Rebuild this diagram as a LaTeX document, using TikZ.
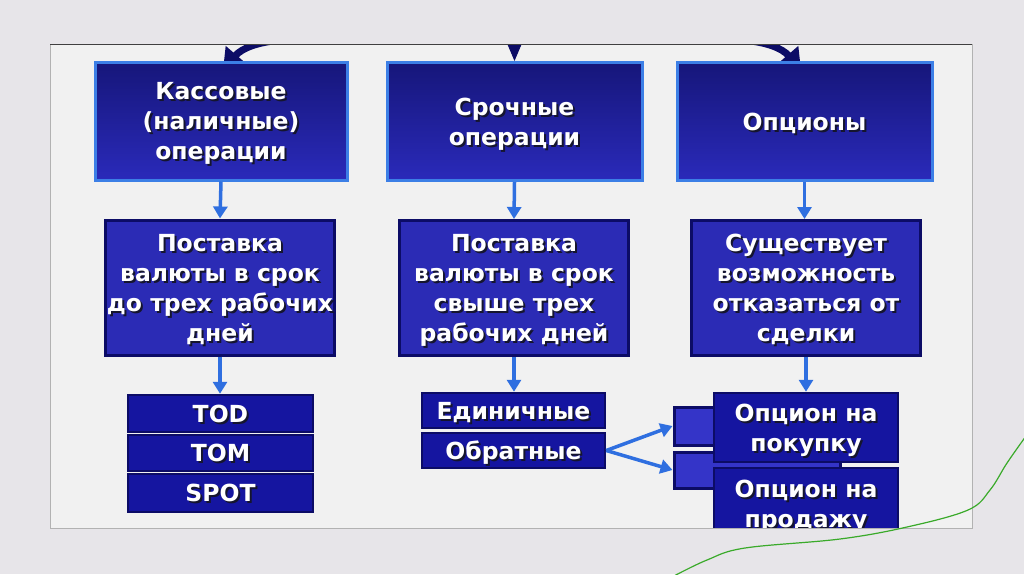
\documentclass[tikz,border=0pt]{standalone}
\usepackage{fontspec}
\setmainfont{DejaVu Sans}
\usetikzlibrary{arrows.meta}
\definecolor{slidebg}{HTML}{E7E5E9}
\definecolor{panelbg}{HTML}{F1F1F1}
\definecolor{navy}{HTML}{0C0C66}
\definecolor{topA}{HTML}{16167A}
\definecolor{topB}{HTML}{2A2ABA}
\definecolor{lightedge}{HTML}{3C7FE6}
\definecolor{midA}{HTML}{2B2BB5}
\definecolor{midB}{HTML}{5858E6}
\definecolor{lowA}{HTML}{1515A0}
\definecolor{lowB}{HTML}{2D2DD8}
\definecolor{smA}{HTML}{3434C8}
\definecolor{smB}{HTML}{5A5AF0}
\definecolor{arrowblue}{HTML}{2F6FE0}
\definecolor{shadowc}{HTML}{15152E}
\definecolor{greenline}{HTML}{3AAA2A}
\newcommand\shtxt[1]{\raisebox{-3.5pt}[\height][\depth]{\makebox[0pt][l]{\raisebox{-2pt}{\hspace*{2pt}\textcolor{shadowc}{\begin{tabular}{@{}c@{}}#1\end{tabular}}}}\begin{tabular}{@{}c@{}}#1\end{tabular}}}
\tikzset{
  boxtext/.style={text=white, font=\bfseries\fontsize{23.5}{30}\selectfont, inner sep=0pt},
  topbox/.style={boxtext, draw=lightedge, line width=3pt, top color=topA, bottom color=topB, minimum width=252pt, minimum height=118pt},
  midbox/.style={boxtext, draw=navy, line width=3pt, top color=midA, middle color=midB, bottom color=midA, minimum width=229pt, minimum height=135pt},
  lowbox/.style={boxtext, draw=navy, line width=2.5pt, top color=lowA, middle color=lowB, bottom color=lowA},
  smallbox/.style={draw=navy, line width=3pt, top color=smA, middle color=smB, bottom color=smA, minimum width=166pt, inner sep=0pt},
  downarrow/.style={draw=arrowblue, line width=3.5pt, -{Triangle[width=14pt,length=12pt]}},
  navyarrow/.style={draw=navy, line width=7pt, -{Triangle[width=26pt,length=20pt]}},
}
\begin{document}
\begin{tikzpicture}[x=1pt,y=-1pt]
\useasboundingbox (0,0) rectangle (1024,574);
\fill[slidebg] (0,0) rectangle (1024,574);
\fill[panelbg] (50,44) rectangle (972,528);
\begin{scope}
\clip (50,44) rectangle (972,528);
% incoming arrows from above (named endpoints)
\coordinate (in1) at (282,40);
\coordinate (in2) at (514.5,36);
\coordinate (in3) at (742,40);
\coordinate (t1) at (223,70);
\coordinate (t3) at (801,70);
\draw[navyarrow] (in1) .. controls (258,42) and (242,48) .. (t1);
\draw[navyarrow] (in3) .. controls (766,42) and (782,48) .. (t3);
% top row
\node[topbox] (b1) at (221,121) {\shtxt{Кассовые\\(наличные)\\операции}};
\node[topbox, minimum width=255pt] (b2) at (514.5,121.5) {\shtxt{Срочные\\операции}};
\node[topbox, minimum width=255pt] (b3) at (804.5,121.5) {\shtxt{Опционы}};
\draw[draw=navy, line width=1pt, -{Triangle[width=15pt,length=18pt]}] (in2) -- (b2.north);
% second row
\node[midbox] (c1) at (220,287.5) {\shtxt{Поставка\\валюты в срок\\до трех рабочих\\дней}};
\node[midbox] (c2) at (514,288) {\shtxt{Поставка\\валюты в срок\\свыше трех\\рабочих дней}};
\node[midbox] (c3) at (806,288) {\shtxt{Существует\\возможность\\отказаться от\\сделки}};
% third row left
\node[lowbox, minimum width=185pt, minimum height=37pt] (tod) at (220.5,413.5) {\shtxt{TOD}};
\node[lowbox, minimum width=185pt, minimum height=36pt] (tom) at (220.5,453) {\shtxt{TOM}};
\node[lowbox, minimum width=185pt, minimum height=38pt] (spot) at (220.5,493) {\shtxt{SPOT}};
% third row middle
\node[lowbox, minimum width=183pt, minimum height=35pt] (ed) at (513.5,410.5) {\shtxt{Единичные}};
\node[lowbox, minimum width=183pt, minimum height=35pt] (obr) at (513.5,450.5) {\shtxt{Обратные}};
% hidden small boxes
\node[smallbox, minimum height=38pt] (sa) at (757,426) {};
\node[smallbox, minimum height=36pt] (sb) at (757,470) {};
% option boxes
\node[lowbox, minimum width=184pt, minimum height=69pt] (o1) at (806,427.5) {\shtxt{Опцион на\\покупку}};
\node[lowbox, minimum width=184pt, minimum height=72pt] (o2) at (806,504) {\shtxt{Опцион на\\продажу}};
% arrows
\draw[downarrow] (b1.south) -- (c1.north);
\draw[downarrow] (b2.south) -- (c2.north);
\draw[downarrow] (b3.south) -- (c3.north -| b3.south);
\draw[downarrow] (c1.south) -- (tod.north -| c1.south);
\draw[downarrow] (c2.south) -- (ed.north -| c2.south);
\draw[downarrow] (c3.south) -- (o1.north);
\draw[downarrow] (obr.east) -- (sa.west);
\draw[downarrow] (obr.east) -- (sb.west);
\end{scope}
\draw[gray!60, line width=0.8pt] (50,44) rectangle (972,528);
\draw[black!75, line width=0.8pt] (50,44) -- (972,44);
\draw[greenline, line width=1.2pt] plot[smooth, tension=0.6] coordinates {(672,577) (707,560) (745,548) (840,539) (907,527) (968,510) (990,490) (1007,463) (1026,436)};
\end{tikzpicture}
\end{document}
